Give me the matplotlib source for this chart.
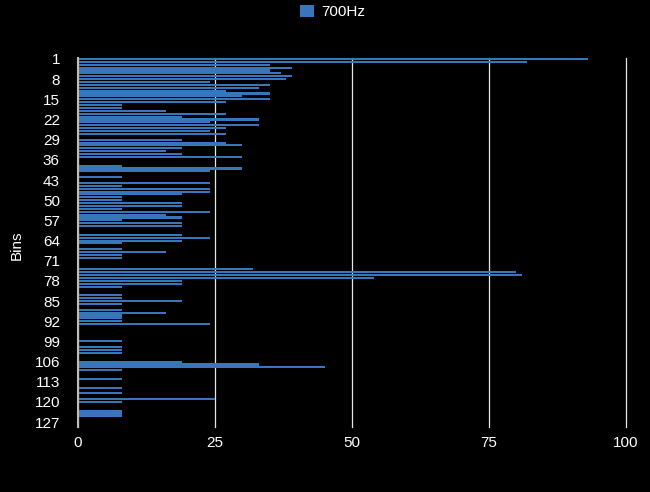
import matplotlib
matplotlib.use("Agg")
import matplotlib.pyplot as plt

# bin numbers and the 700Hz magnitudes
bins = list(range(1, 129))
values_700hz = [
    93, 82, 35, 39, 35, 37, 39, 38, 24, 35,
    33, 27, 35, 30, 35, 27, 8, 8, 16, 27,
    19, 33, 24, 33, 27, 24, 27, 0, 19, 27,
    30, 19, 16, 19, 30, 0, 0, 8, 30, 24,
    0, 8, 0, 24, 8, 24, 24, 19, 8, 8,
    19, 19, 8, 24, 16, 19, 8, 19, 19, 0,
    0, 19, 24, 19, 8, 0, 8, 16, 8, 8,
    0, 0, 0, 32, 80, 81, 54, 19, 19, 8,
    0, 0, 8, 8, 19, 8, 0, 8, 16, 8,
    8, 8, 24, 0, 0, 0, 0, 0, 8, 0,
    8, 8, 8, 0, 0, 19, 33, 45, 8, 0,
    0, 8, 0, 0, 8, 0, 8, 0, 25, 8,
    0, 0, 8, 8, 8, 0, 0, 0,
]
x_ticks = [0, 25, 50, 75, 100]
series_name = "700Hz"

bar_color = "#3776ba"
plt.rcParams["font.family"] = ["Liberation Sans", "DejaVu Sans"]
plt.rcParams["font.size"] = 11

fig = plt.figure(figsize=(6.5, 4.92), dpi=100, facecolor="black")
ax = fig.add_axes([78 / 650, 1 - 426.5 / 492, 548 / 650, 369 / 492])
ax.set_facecolor("black")

ax.barh(bins, values_700hz, height=0.72, color=bar_color, label=series_name)

ax.set_xlim(0, 100)
ax.set_ylim(128.5, 0.5)
ax.set_xticks(x_ticks)
ax.set_yticks(bins[::7])
ax.set_yticklabels([str(b) for b in bins[::7]])

# vertical grid lines only (last one sits on the right edge, so don't clip)
ax.grid(axis="x", color="#e6e6e6", linewidth=0.9)
for gl in ax.get_xgridlines():
    gl.set_clip_on(False)
ax.set_axisbelow(True)
for side in ["top", "right", "bottom"]:
    ax.spines[side].set_visible(False)
ax.spines["left"].set_color("#bdbdbd")
ax.spines["left"].set_linewidth(1.5)

ax.tick_params(axis="x", length=0, pad=7, colors="white", labelsize=11)
ax.tick_params(axis="y", length=0, pad=13, colors="white", labelsize=11)

fig.text(17 / 650, 1 - 245 / 492, "Bins", rotation=90, ha="center", va="center",
         color="white", fontsize=11)

fig.legend(loc="center", bbox_to_anchor=(333 / 650, 1 - 12 / 492), frameon=False,
           handlelength=0.9, handleheight=0.9, handletextpad=0.5,
           labelcolor="white", fontsize=11)

fig.savefig("out.png", facecolor="black")
